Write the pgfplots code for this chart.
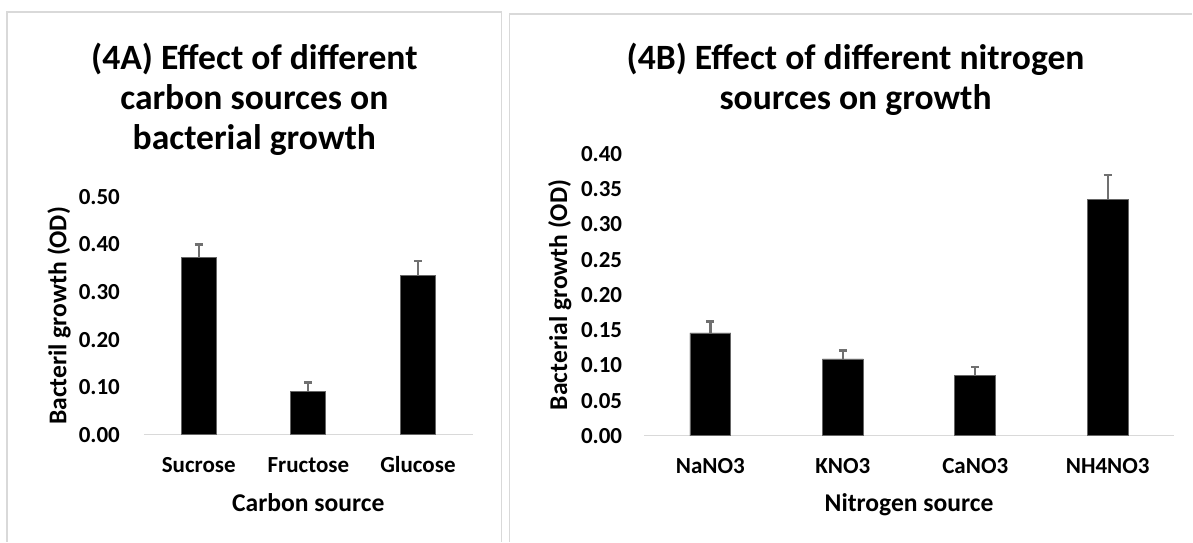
\documentclass[border=0pt]{standalone}
\usepackage{pgfplots}
\pgfplotsset{compat=1.18}
\usepackage{fontspec}
\setmainfont{Carlito}
\definecolor{panel}{HTML}{D9D9D9}
\definecolor{errc}{HTML}{707070}
\pgfplotsset{
  common/.style={
    scale only axis,
    anchor=south west,
    axis x line*=bottom,
    axis y line*=left,
    x axis line style={draw=panel,line width=0.7pt,-},
    y axis line style={draw=none},
    major tick length=0pt,
    tick label style={font=\fontsize{11.5}{13}\selectfont\bfseries},
    xticklabel style={anchor=base,yshift=-18.75pt},
    /pgf/number format/assume math mode=true,
    /pgf/number format/fixed,
    /pgf/number format/fixed zerofill,
    /pgf/number format/precision=2,
    label style={font=\fontsize{12.8}{15}\selectfont\bfseries},
    ymin=0,
    ybar,
    xtick={0,1,2,3},
    enlarge x limits=false,
  },
  barsty/.style={fill=black,draw=black!60,line width=0.4pt,
    error bars/.cd, y dir=plus, y explicit,
    error bar style={draw=errc,line width=1.1pt},
    error mark options={draw=errc,line width=1.2pt,rotate=90,mark size=2pt}},
}
\pgfplotstableread{
x y e
0 0.372 0.028
1 0.091 0.019
2 0.334 0.031
}\carbon
\pgfplotstableread{
x y e
0 0.146 0.016
1 0.109 0.012
2 0.085 0.013
3 0.336 0.034
}\nitro
\begin{document}
\begin{tikzpicture}[x=1pt,y=1pt]
\path (0,0) rectangle (596.5,271);
\draw[panel,line width=0.6pt] (3.5,0) -- (3.5,265) -- (251,265) -- (251,0);
\draw[panel,line width=0.6pt] (255,0) -- (255,264) -- (596.5,264);
\begin{scope}[font=\fontsize{17.8}{20}\selectfont\bfseries]
\node[anchor=base] at (127.25,236) {(4A) Effect of different};
\node[anchor=base] at (127.25,216) {carbon sources on};
\node[anchor=base] at (127.25,196) {bacterial growth};
\node[anchor=base] at (428,236) {(4B) Effect of different nitrogen};
\node[anchor=base] at (428,216) {sources on growth};
\end{scope}
\begin{axis}[common,
  at={(72pt,53.5pt)}, width=164.5pt, height=119pt,
  ymax=0.5, xmin=-0.5, xmax=2.5,
  ytick={0,0.1,0.2,0.3,0.4,0.5},
  xticklabels={Sucrose,Fructose,Glucose},
  bar width=17.5pt,
  yticklabel style={xshift=-8.5pt},
  ylabel={Bacteril growth (OD)},
  ylabel style={at={(axis description cs:-0.2584,0.5)},anchor=center},
  xlabel={Carbon source},
  xlabel style={at={(axis description cs:0.5,-0.2857)},anchor=center},
]
\addplot[barsty] table[x=x,y=y,y error=e] {\carbon};
\end{axis}
\begin{axis}[common,
  at={(322.25pt,53pt)}, width=265pt, height=141pt,
  ymax=0.4, xmin=-0.5, xmax=3.5,
  ytick={0,0.05,0.1,0.15,0.2,0.25,0.3,0.35,0.4},
  xticklabels={NaNO3,KNO3,CaNO3,NH4NO3},
  bar width=20.5pt,
  yticklabel style={xshift=-7.5pt},
  ylabel={Bacterial growth (OD)},
  ylabel style={at={(axis description cs:-0.1594,0.5)},anchor=center},
  xlabel={Nitrogen source},
  xlabel style={at={(axis description cs:0.5,-0.2447)},anchor=center},
]
\addplot[barsty] table[x=x,y=y,y error=e] {\nitro};
\end{axis}
\end{tikzpicture}
\end{document}
